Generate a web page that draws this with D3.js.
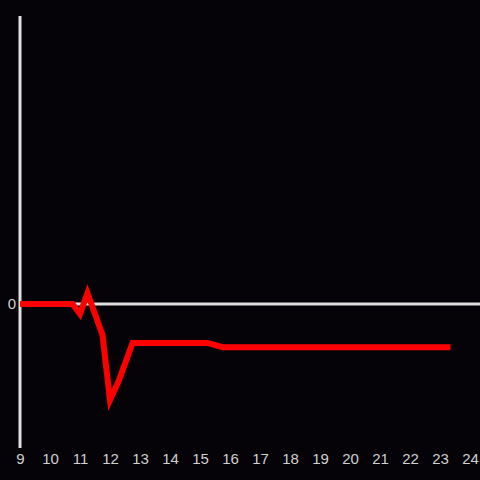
<!DOCTYPE html>
<html>
<head>
<meta charset="utf-8">
<script src="https://cdn.jsdelivr.net/npm/d3@7"></script>
<style>
  html, body { margin: 0; padding: 0; background: #050308; }
  svg { display: block; }
  .tick text { font-family: "Liberation Sans", Arial, sans-serif; font-size: 15px; fill: #d0d0d0; }
</style>
</head>
<body>
<div id="chart"></div>
<script>
var width = 480;
var height = 480;

// hours of the day and their values
var hours = [9, 10.75, 11, 11.25, 11.75, 12, 12.3, 12.75, 15.25, 15.75, 23.35];
var values = [0, 0, -0.07, 0.076, -0.215, -0.667, -0.53, -0.27, -0.27, -0.3, -0.3];
var xTicks = [9, 10, 11, 12, 13, 14, 15, 16, 17, 18, 19, 20, 21, 22, 23, 24];
var yTicks = [0];

var data = hours.map(function (h, i) {
    return { x: h, y: values[i] };
});

var svg = d3.select("#chart")
    .append("svg")
    .attr("width", width)
    .attr("height", height);

svg.append("rect")
    .attr("width", width)
    .attr("height", height)
    .attr("fill", "#050308");

var xScale = d3.scaleLinear()
    .domain([9, 24])
    .range([20, 470]);
var yScale = d3.scaleLinear()
    .domain([-1, 2])
    .range([448, 16]);

// x labels only, no axis line
var xAxis = d3.axisBottom(xScale)
    .tickValues(xTicks)
    .tickSize(0)
    .tickPadding(0)
    .tickFormat(d3.format("d"));

svg.append("g")
    .attr("transform", "translate(0,453)")
    .call(xAxis)
    .call(function (g) { g.select(".domain").remove(); });

var yAxis = d3.axisLeft(yScale)
    .tickValues(yTicks)
    .tickSize(0)
    .tickPadding(4)
    .tickFormat(d3.format("d"));

svg.append("g")
    .attr("transform", "translate(20,0)")
    .call(yAxis)
    .call(function (g) { g.select(".domain").remove(); });

// vertical axis line
svg.append("line")
    .attr("x1", xScale(9))
    .attr("x2", xScale(9))
    .attr("y1", yScale(2))
    .attr("y2", yScale(-1))
    .attr("stroke", "#e0e0e0")
    .attr("stroke-width", 3);

// zero line
svg.append("line")
    .attr("x1", xScale(9))
    .attr("x2", width)
    .attr("y1", yScale(0))
    .attr("y2", yScale(0))
    .attr("stroke", "#e0e0e0")
    .attr("stroke-width", 3);

var line = d3.line()
    .x(function (d) { return xScale(d.x); })
    .y(function (d) { return yScale(d.y); });

svg.append("path")
    .datum(data)
    .attr("d", line)
    .attr("fill", "none")
    .attr("stroke", "#ff0000")
    .attr("stroke-width", 6);
</script>
</body>
</html>
